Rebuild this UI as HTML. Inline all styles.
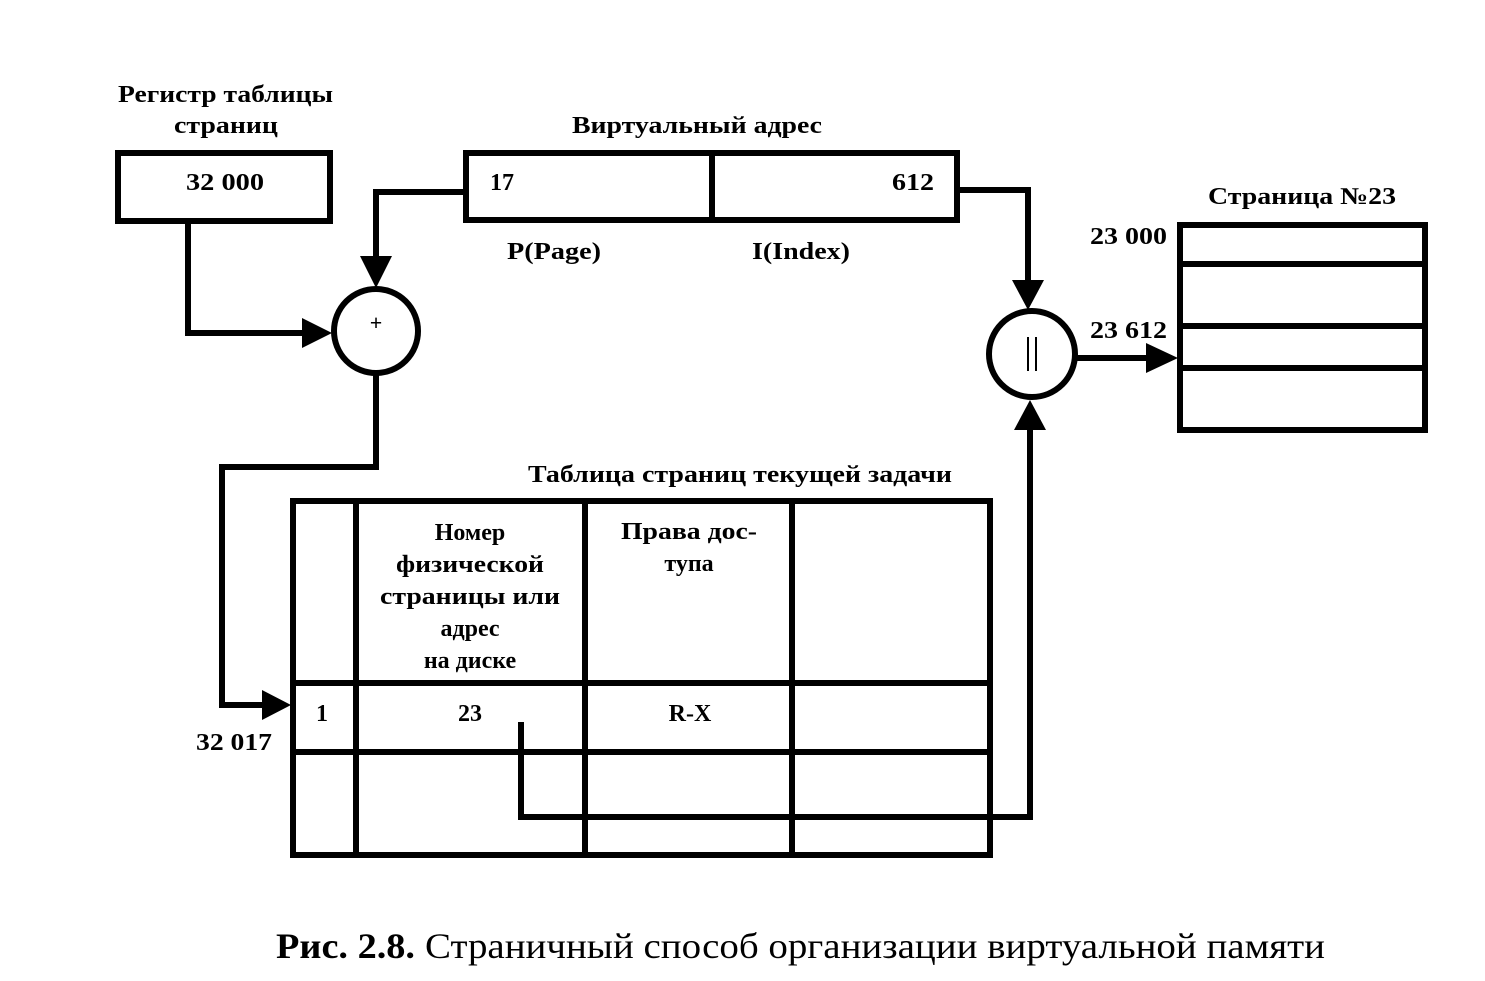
<!DOCTYPE html>
<html><head><meta charset="utf-8"><style>
html,body{margin:0;padding:0;background:#fff;}
svg{display:block;}
text{font-family:"Liberation Serif",serif;font-weight:bold;fill:#000;}
</style></head><body>
<svg width="1485" height="981" viewBox="0 0 1485 981" xmlns="http://www.w3.org/2000/svg">
<g fill="none" stroke="#000" stroke-width="6">
<rect x="118" y="153" width="212" height="68"/>
<rect x="466" y="153" width="491" height="67"/>
<line x1="712" y1="153" x2="712" y2="220"/>
<circle cx="376" cy="331" r="42"/>
<circle cx="1032" cy="354" r="43"/>
<rect x="1180" y="225" width="245" height="205"/>
<line x1="1180" y1="264" x2="1425" y2="264"/>
<line x1="1180" y1="326" x2="1425" y2="326"/>
<line x1="1180" y1="368" x2="1425" y2="368"/>
<rect x="293" y="501" width="697" height="354"/>
<line x1="356" y1="501" x2="356" y2="855"/>
<line x1="585" y1="501" x2="585" y2="855"/>
<line x1="792" y1="501" x2="792" y2="855"/>
<line x1="293" y1="683" x2="990" y2="683"/>
<line x1="293" y1="752" x2="990" y2="752"/>
<polyline points="188,224 188,333 305,333"/>
<polyline points="466,192 376,192 376,258"/>
<polyline points="957,190 1028,190 1028,282"/>
<polyline points="1075,358 1150,358"/>
<polyline points="376,373 376,467 222,467 222,705 265,705"/>
<polyline points="521,722 521,817 1030,817 1030,428"/>
</g>
<g fill="#000">
<polygon points="302,318 332,333 302,348"/>
<polygon points="360,256 392,256 376,288"/>
<polygon points="1012,280 1044,280 1028,310"/>
<polygon points="1146,343 1178,358 1146,373"/>
<polygon points="262,690 291,705 262,720"/>
<polygon points="1014,430 1046,430 1030,400"/>
</g>
<line x1="1028" y1="337" x2="1028" y2="371" stroke="#000" stroke-width="2"/>
<line x1="1036" y1="337" x2="1036" y2="371" stroke="#000" stroke-width="2"/>
<text x="376" y="330" font-size="22" text-anchor="middle">+</text>
<g font-size="24">
<text x="118" y="102" textLength="215" lengthAdjust="spacingAndGlyphs">Регистр таблицы</text>
<text x="174" y="133" textLength="104" lengthAdjust="spacingAndGlyphs">страниц</text>
<text x="186" y="190" textLength="78" lengthAdjust="spacingAndGlyphs">32 000</text>
<text x="572" y="133" textLength="250" lengthAdjust="spacingAndGlyphs">Виртуальный адрес</text>
<text x="490" y="190">17</text>
<text x="892" y="190" textLength="42" lengthAdjust="spacingAndGlyphs">612</text>
<text x="507" y="259" textLength="94" lengthAdjust="spacingAndGlyphs">P(Page)</text>
<text x="752" y="259" textLength="98" lengthAdjust="spacingAndGlyphs">I(Index)</text>
<text x="1208" y="204" textLength="188" lengthAdjust="spacingAndGlyphs">Страница №23</text>
<text x="1090" y="244" textLength="77" lengthAdjust="spacingAndGlyphs">23 000</text>
<text x="1090" y="338" textLength="77" lengthAdjust="spacingAndGlyphs">23 612</text>
<text x="528" y="482" textLength="424" lengthAdjust="spacingAndGlyphs">Таблица страниц текущей задачи</text>
<text x="470" y="540" text-anchor="middle">Номер</text>
<text x="470" y="572" text-anchor="middle" textLength="148" lengthAdjust="spacingAndGlyphs">физической</text>
<text x="470" y="604" text-anchor="middle" textLength="180" lengthAdjust="spacingAndGlyphs">страницы или</text>
<text x="470" y="636" text-anchor="middle">адрес</text>
<text x="470" y="668" text-anchor="middle">на диске</text>
<text x="689" y="539" text-anchor="middle" textLength="136" lengthAdjust="spacingAndGlyphs">Права дос-</text>
<text x="689" y="571" text-anchor="middle">тупа</text>
<text x="322" y="721" text-anchor="middle">1</text>
<text x="470" y="721" text-anchor="middle">23</text>
<text x="690" y="721" text-anchor="middle">R-X</text>
<text x="196" y="750" textLength="76" lengthAdjust="spacingAndGlyphs">32 017</text>
</g>
<text x="276" y="958" font-size="36" textLength="139" lengthAdjust="spacingAndGlyphs">Рис. 2.8.</text>
<text x="425" y="958" font-size="36" font-weight="normal" style="font-weight:normal" textLength="900" lengthAdjust="spacingAndGlyphs">Страничный способ организации виртуальной памяти</text>
</svg>
</body></html>
